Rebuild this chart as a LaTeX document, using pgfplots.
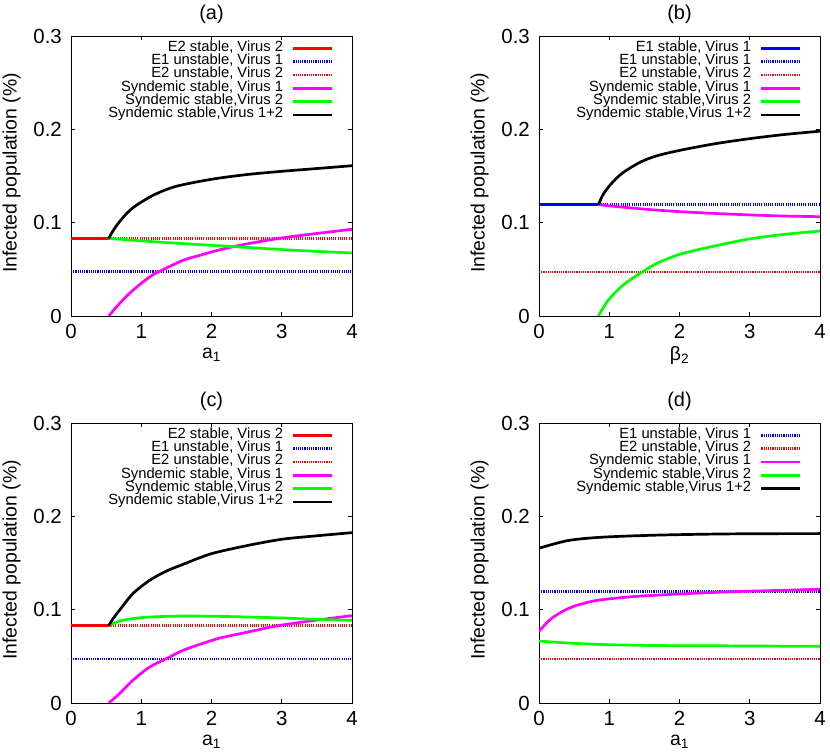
\documentclass[border=0pt]{standalone}
\usepackage{fontspec}
\setmainfont{Liberation Sans}
\usepackage{pgfplots}
\pgfplotsset{compat=1.18}
\definecolor{cred}{HTML}{FF0000}
\definecolor{cblue}{HTML}{0000FF}
\definecolor{cmag}{HTML}{FF00FF}
\definecolor{cgreen}{HTML}{00FF00}

\pgfplotsset{
  panel/.style={
    scale only axis, width=281bp, height=280bp,
    xmin=0, xmax=4, ymin=0, ymax=0.3,
    xtick={0,1,2,3,4}, ytick={0,0.1,0.2,0.3},
    tick align=inside, tick pos=both, major tick length=4bp,
    every tick/.style={black, line width=0.6bp},
    axis line style={black, line width=0.8bp},
    /pgf/number format/assume math mode=true,
    tick label style={font=\fontsize{20.5}{23}\selectfont},
    yticklabel style={/pgf/number format/fixed, anchor=east, inner sep=0pt, xshift=-9bp},
    xticklabel style={anchor=center, inner sep=0pt, yshift=-15.7bp},
    label style={font=\fontsize{19.5}{22}\selectfont},
    ylabel={Infected population (\%)},
    ylabel style={at={(0,0.5)}, anchor=center, yshift=59.5bp, xshift=3bp},
    xlabel style={at={(0.5,0)}, anchor=center, yshift=-39bp},
    title style={font=\fontsize{20}{23}\selectfont, at={(0.5,1)}, anchor=center, yshift=16bp},
    legend cell align=right, legend plot pos=right,
    legend image code/.code={\draw[##1] (0bp,0bp) -- (39bp,0bp);},
    legend style={draw=none, fill=none, at={(1,1)}, anchor=north east,
      xshift=-18bp, yshift=-5bp, inner sep=0pt, row sep=-1.1bp, column sep=9bp,
      font=\fontsize{14.8}{15}\selectfont,
      nodes={inner sep=0pt, text height=10.2bp, text depth=4.2bp}},
  },
  sol/.style={line width=2.7bp},
  cur/.style={line width=2.7bp, smooth},
  dot/.style={line width=2.4bp, dash pattern=on 1.1bp off 1.1bp},
}

\begin{document}
\begin{tikzpicture}
\path[use as bounding box] (0,0) rectangle (830bp,754bp);

% (a)
\begin{axis}[panel, at={(71bp,438bp)}, anchor=south west,
  title={(a)}, xlabel={a\textsubscript{1}}]
\addplot[sol, cred] coordinates {(0,0.0832) (0.538,0.0832)};
\addlegendentry{E2 stable, Virus 2}
\addplot[dot, cblue] coordinates {(0,0.0476) (4,0.0476)};
\addlegendentry{E1 unstable, Virus 1}
\addplot[dot, cred] coordinates {(0.538,0.0832) (4,0.0832)};
\addlegendentry{E2 unstable, Virus 2}
\addplot[cur, cmag] coordinates {
  (0.538,0) (0.69,0.0133) (0.88,0.0275) (1.119,0.0418) (1.26,0.0478)
  (1.594,0.0596) (1.833,0.065) (2.12,0.071) (2.5,0.0772) (3.0,0.0836)
  (3.5,0.0884) (4.0,0.0929)};
\addlegendentry{Syndemic stable, Virus 1}
\addplot[cur, cgreen] coordinates {
  (0.538,0.0832) (1.0,0.0805) (1.5,0.0780) (2.0,0.0757) (2.5,0.0735)
  (3.0,0.0712) (3.5,0.0692) (4.0,0.0675)};
\addlegendentry{Syndemic stable,Virus 2}
\addplot[cur, black] coordinates {
  (0.538,0.0832) (0.6,0.0915) (0.69,0.101) (0.8,0.1105) (0.9,0.117)
  (1.0,0.122) (1.2,0.1305) (1.5,0.139) (2.0,0.1465) (2.5,0.1515)
  (3.0,0.155) (3.5,0.158) (4.0,0.161)};
\addlegendentry{Syndemic stable,Virus 1+2}
\end{axis}

% (b)
\begin{axis}[panel, at={(539bp,438bp)}, anchor=south west,
  title={(b)}, xlabel={β\textsubscript{2}}]
\addplot[sol, cblue] coordinates {(0,0.1196) (0.848,0.1196)};
\addlegendentry{E1 stable, Virus 1}
\addplot[dot, cblue] coordinates {(0.848,0.1196) (4,0.1196)};
\addlegendentry{E1 unstable, Virus 1}
\addplot[dot, cred] coordinates {(0,0.0474) (4,0.0474)};
\addlegendentry{E2 unstable, Virus 2}
\addplot[cur, cmag] coordinates {
  (0.848,0.1196) (1.0,0.118) (1.5,0.1145) (2.0,0.1118) (2.5,0.1099)
  (3.0,0.1083) (3.5,0.1071) (4.0,0.1064)};
\addlegendentry{Syndemic stable, Virus 1}
\addplot[cur, cgreen] coordinates {
  (0.845,0) (0.92,0.0095) (1.004,0.0186) (1.194,0.0329) (1.433,0.0454)
  (1.671,0.0561) (2.0,0.066) (2.433,0.0739) (3.0,0.0826) (3.5,0.0875)
  (4.0,0.091)};
\addlegendentry{Syndemic stable,Virus 2}
\addplot[cur, black] coordinates {
  (0.848,0.1196) (0.9,0.1285) (0.957,0.135) (1.05,0.1435) (1.194,0.1535)
  (1.433,0.1645) (1.671,0.1715) (2.0,0.1774) (2.5,0.1845) (3.0,0.190)
  (3.5,0.1945) (4.0,0.198)};
\addlegendentry{Syndemic stable,Virus 1+2}
\end{axis}

% (c)
\begin{axis}[panel, at={(71bp,51bp)}, anchor=south west,
  title={(c)}, xlabel={a\textsubscript{1}}]
\addplot[sol, cred] coordinates {(0,0.0829) (0.538,0.0829)};
\addlegendentry{E2 stable, Virus 2}
\addplot[dot, cblue] coordinates {(0,0.0474) (4,0.0474)};
\addlegendentry{E1 unstable, Virus 1}
\addplot[dot, cred] coordinates {(0.538,0.0829) (4,0.0829)};
\addlegendentry{E2 unstable, Virus 2}
\addplot[cur, cmag] coordinates {
  (0.538,0) (0.69,0.01) (0.88,0.0243) (1.119,0.0385) (1.357,0.0475)
  (1.594,0.0564) (1.833,0.0628) (2.12,0.0696) (2.524,0.0761) (2.952,0.0829)
  (3.476,0.0886) (4.0,0.0936)};
\addlegendentry{Syndemic stable, Virus 1}
\addplot[cur, cgreen] coordinates {
  (0.538,0.0829) (0.69,0.0878) (0.88,0.0904) (1.119,0.0921) (1.594,0.0932)
  (2.12,0.0928) (2.524,0.0921) (3.0,0.0911) (3.5,0.0896) (4.0,0.0886)};
\addlegendentry{Syndemic stable,Virus 2}
\addplot[cur, black] coordinates {
  (0.538,0.0829) (0.6,0.0905) (0.69,0.0993) (0.88,0.1171) (1.119,0.1314)
  (1.357,0.1413) (1.594,0.1485) (2.0,0.160) (2.524,0.1689) (3.0,0.1754)
  (3.476,0.179) (4.0,0.1825)};
\addlegendentry{Syndemic stable,Virus 1+2}
\end{axis}

% (d)
\begin{axis}[panel, at={(539bp,51bp)}, anchor=south west,
  title={(d)}, xlabel={a\textsubscript{1}}]
\addplot[dot, cblue] coordinates {(0,0.1195) (4,0.1195)};
\addlegendentry{E1 unstable, Virus 1}
\addplot[dot, cred] coordinates {(0,0.0473) (4,0.0473)};
\addlegendentry{E2 unstable, Virus 2}
\addplot[cur, cmag] coordinates {
  (0,0.0767) (0.171,0.0902) (0.41,0.101) (0.647,0.107) (0.886,0.1106)
  (1.362,0.1141) (2.0,0.1168) (2.524,0.1186) (3.0,0.1198) (3.5,0.1208)
  (4.0,0.1218)};
\addlegendentry{Syndemic stable, Virus 1}
\addplot[cur, cgreen] coordinates {
  (0,0.0663) (0.41,0.0643) (0.886,0.0627) (1.647,0.0616) (2.5,0.0613)
  (3.2,0.061) (4.0,0.0607)};
\addlegendentry{Syndemic stable,Virus 2}
\addplot[cur, black] coordinates {
  (0,0.1658) (0.41,0.174) (0.886,0.1776) (1.647,0.1798) (2.5,0.181)
  (3.2,0.1814) (4.0,0.1815)};
\addlegendentry{Syndemic stable,Virus 1+2}
\end{axis}
\end{tikzpicture}
\end{document}
